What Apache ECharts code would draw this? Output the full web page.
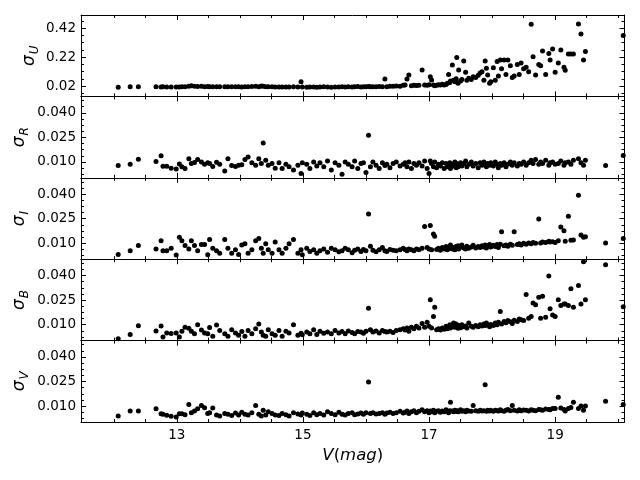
<!DOCTYPE html>
<html><head><meta charset="utf-8">
<script src="https://cdn.jsdelivr.net/npm/echarts@6/dist/echarts.min.js"></script>
<style>html,body{margin:0;padding:0;background:#fff}#c{width:640px;height:480px}</style>
</head><body><div id="c"></div>
<script>
// V magnitudes (shared by all panels)
const vMag = [12.07,12.26,12.39,12.67,12.75,12.78,12.84,12.91,12.99,13.04,
13.08,13.13,13.19,13.23,13.28,13.33,13.39,13.44,13.49,13.52,13.57,13.63,13.68,13.76,13.81,13.87,13.93,13.98,
14.03,14.08,14.13,14.19,14.25,14.30,14.34,14.37,14.41,14.45,14.51,14.56,14.62,14.67,14.73,14.78,14.85,14.92,14.97,14.99,
15.06,15.11,15.17,15.22,15.27,15.33,15.39,15.45,15.51,15.57,15.62,15.67,15.72,15.78,15.82,15.87,15.92,15.96,16.00,
16.04,16.07,16.11,16.16,16.21,16.26,16.30,16.33,16.38,16.43,16.48,16.54,16.59,16.62,16.65,16.68,16.72,16.76,16.80,16.84,16.89,16.93,16.97,17.00,
17.02,17.04,17.07,17.09,17.12,17.15,17.18,17.21,17.24,17.27,17.29,17.31,17.33,17.34,17.37,17.39,17.41,17.43,17.44,17.46,17.47,17.50,17.52,17.55,17.58,17.60,17.63,17.67,17.70,17.74,17.78,17.81,17.84,17.87,17.89,17.91,17.93,17.96,17.98,
18.02,18.05,18.08,18.10,18.13,18.15,18.19,18.22,18.25,18.29,18.32,18.35,18.40,18.43,18.46,18.50,18.54,18.58,18.62,18.65,18.69,18.74,18.77,18.80,18.85,18.90,18.92,18.96,19.00,
19.05,19.09,19.14,19.16,19.21,19.25,19.29,19.37,19.41,19.45,19.48,19.80,20.08];

const sigU = [0.012,0.016,0.016,0.016,0.014,0.015,0.013,0.013,0.014,0.014,
0.015,0.016,0.019,0.022,0.019,0.017,0.018,0.016,0.017,0.015,0.016,0.015,0.015,0.016,0.015,0.016,0.015,0.016,
0.014,0.016,0.016,0.017,0.018,0.016,0.020,0.019,0.016,0.016,0.015,0.014,0.013,0.013,0.014,0.013,0.015,0.014,0.050,0.013,
0.012,0.014,0.013,0.012,0.013,0.015,0.014,0.012,0.013,0.014,0.015,0.013,0.016,0.014,0.015,0.017,0.014,0.016,0.015,
0.017,0.016,0.015,0.016,0.017,0.015,0.069,0.016,0.018,0.018,0.020,0.019,0.025,0.027,0.069,0.096,0.022,0.025,0.024,0.026,0.131,0.028,0.025,0.030,
0.085,0.062,0.027,0.022,0.025,0.030,0.028,0.033,0.027,0.031,0.040,0.100,0.045,0.055,0.166,0.060,0.050,0.070,0.217,0.040,0.131,0.055,0.065,0.194,0.115,0.060,0.075,0.065,0.085,0.080,0.095,0.110,0.120,0.060,0.194,0.143,0.096,0.040,0.050,
0.147,0.060,0.190,0.090,0.200,0.140,0.200,0.100,0.200,0.160,0.080,0.090,0.170,0.100,0.180,0.140,0.150,0.120,0.448,0.223,0.096,0.170,0.160,0.263,0.100,0.245,0.200,0.277,0.115,
0.180,0.270,0.150,0.130,0.242,0.242,0.242,0.450,0.380,0.200,0.260,null,0.370];

const sigR = [0.0078,0.0085,0.0117,0.0102,0.0137,0.0074,0.0074,0.0062,0.0056,0.0088,
0.0070,0.0060,0.0120,0.0090,0.0096,0.0115,0.0100,0.0085,0.0095,0.0090,0.0072,0.0098,0.0085,0.0045,0.0120,0.0078,0.0072,0.0080,
0.0082,0.0115,0.0130,0.0095,0.0080,0.0120,0.0090,0.0216,0.0110,0.0080,0.0090,0.0062,0.0095,0.0060,0.0085,0.0070,0.0050,0.0080,0.0030,0.0095,
0.0085,0.0060,0.0100,0.0075,0.0095,0.0070,0.0105,0.0050,0.0095,0.0080,0.0025,0.0100,0.0085,0.0070,0.0105,0.0060,0.0090,0.0095,0.0035,
0.0263,0.0070,0.0100,0.0080,0.0060,0.0095,0.0078,0.0085,0.0065,0.0090,0.0100,0.0075,0.0085,0.0095,0.0070,0.0100,0.0060,0.0090,0.0080,0.0095,0.0075,0.0105,0.0060,0.0030,
0.0105,0.0090,0.0070,0.0100,0.0065,0.0085,0.0075,0.0095,0.0060,0.0090,0.0070,0.0080,0.0095,0.0060,0.0085,0.0075,0.0100,0.0065,0.0090,0.0070,0.0080,0.0095,0.0075,0.0090,0.0105,0.0070,0.0085,0.0100,0.0075,0.0090,0.0065,0.0095,0.0080,0.0100,0.0085,0.0070,0.0090,0.0080,0.0095,
0.0075,0.0100,0.0085,0.0065,0.0090,0.0080,0.0095,0.0070,0.0085,0.0100,0.0080,0.0095,0.0075,0.0090,0.0085,0.0100,0.0080,0.0095,0.0110,0.0090,0.0115,0.0085,0.0100,0.0090,0.0110,0.0080,0.0095,0.0100,0.0085,
0.0090,0.0105,0.0080,0.0095,0.0100,0.0085,0.0110,0.0120,0.0095,0.0080,0.0110,0.0078,0.0139];

const sigI = [0.0031,0.0055,0.0086,0.0065,0.0116,0.0055,0.0055,0.0070,0.0029,0.0137,
0.0116,0.0086,0.0065,0.0116,0.0086,0.0055,0.0092,0.0092,0.0030,0.0124,0.0070,0.0055,0.0040,0.0124,0.0070,0.0040,0.0060,0.0031,
0.0090,0.0098,0.0040,0.0060,0.0116,0.0130,0.0070,0.0040,0.0098,0.0060,0.0040,0.0108,0.0060,0.0040,0.0070,0.0098,0.0124,0.0040,0.0060,0.0030,
0.0070,0.0050,0.0060,0.0040,0.0055,0.0066,0.0045,0.0070,0.0060,0.0048,0.0055,0.0070,0.0060,0.0042,0.0058,0.0065,0.0050,0.0062,0.0055,
0.0279,0.0082,0.0058,0.0048,0.0060,0.0075,0.0055,0.0050,0.0062,0.0058,0.0055,0.0060,0.0070,0.0062,0.0055,0.0065,0.0060,0.0055,0.0065,0.0060,0.0070,0.0202,0.0075,0.0065,
0.0208,0.0060,0.0157,0.0143,0.0062,0.0070,0.0058,0.0075,0.0065,0.0080,0.0060,0.0072,0.0068,0.0090,0.0065,0.0075,0.0060,0.0080,0.0070,0.0085,0.0065,0.0078,0.0090,0.0072,0.0065,0.0082,0.0070,0.0078,0.0088,0.0072,0.0080,0.0075,0.0085,0.0078,0.0090,0.0072,0.0085,0.0092,0.0078,
0.0088,0.0080,0.0092,0.0075,0.0095,0.0171,0.0085,0.0090,0.0082,0.0095,0.0088,0.0171,0.0092,0.0098,0.0090,0.0100,0.0095,0.0102,0.0098,0.0105,0.0100,0.0248,0.0102,0.0108,0.0105,0.0112,0.0108,0.0110,0.0105,
0.0115,0.0200,0.0177,0.0112,0.0266,0.0118,0.0120,0.0394,0.0151,0.0137,0.0140,0.0102,0.0130];

const sigB = [0.0015,0.0040,0.0094,0.0061,0.0092,0.0025,0.0050,0.0046,0.0050,0.0025,
0.0060,0.0085,0.0078,0.0060,0.0045,0.0100,0.0068,0.0050,0.0045,0.0083,0.0030,0.0098,0.0065,0.0045,0.0030,0.0070,0.0050,0.0035,
0.0058,0.0030,0.0065,0.0045,0.0075,0.0105,0.0055,0.0035,0.0030,0.0070,0.0045,0.0035,0.0065,0.0030,0.0060,0.0050,0.0100,0.0035,0.0048,0.0038,
0.0055,0.0045,0.0070,0.0040,0.0060,0.0048,0.0055,0.0045,0.0065,0.0050,0.0058,0.0045,0.0062,0.0052,0.0045,0.0058,0.0055,0.0048,0.0060,
0.0200,0.0070,0.0055,0.0062,0.0050,0.0065,0.0058,0.0055,0.0060,0.0052,0.0065,0.0070,0.0075,0.0068,0.0080,0.0060,0.0085,0.0075,0.0090,0.0080,0.0108,0.0085,0.0115,0.0090,
0.0253,0.0080,0.0150,0.0206,0.0070,0.0075,0.0068,0.0080,0.0072,0.0090,0.0075,0.0085,0.0100,0.0080,0.0092,0.0110,0.0085,0.0105,0.0090,0.0078,0.0095,0.0082,0.0100,0.0088,0.0092,0.0080,0.0110,0.0090,0.0085,0.0095,0.0088,0.0100,0.0092,0.0105,0.0095,0.0110,0.0098,0.0088,0.0102,
0.0095,0.0110,0.0100,0.0115,0.0180,0.0105,0.0120,0.0112,0.0125,0.0118,0.0108,0.0128,0.0120,0.0135,0.0130,0.0125,0.0284,0.0140,0.0150,0.0232,0.0222,0.0268,0.0140,0.0274,0.0145,0.0398,0.0197,0.0160,0.0150,
0.0253,0.0218,0.0226,0.0226,0.0218,0.0320,0.0206,0.0340,0.0226,0.0485,0.0253,0.0466,0.0210];

const sigV = [0.0040,0.0070,0.0070,0.0084,0.0054,0.0050,0.0044,0.0038,0.0033,0.0054,
0.0054,0.0048,0.0110,0.0060,0.0070,0.0084,0.0104,0.0090,0.0055,0.0060,0.0088,0.0045,0.0040,0.0055,0.0050,0.0042,0.0058,0.0045,
0.0063,0.0050,0.0045,0.0060,0.0104,0.0050,0.0040,0.0075,0.0045,0.0065,0.0055,0.0045,0.0043,0.0055,0.0048,0.0040,0.0060,0.0052,0.0045,0.0058,
0.0050,0.0042,0.0060,0.0048,0.0055,0.0045,0.0065,0.0055,0.0048,0.0062,0.0050,0.0045,0.0055,0.0060,0.0048,0.0052,0.0058,0.0050,0.0060,
0.0247,0.0055,0.0060,0.0052,0.0055,0.0060,0.0050,0.0058,0.0062,0.0055,0.0060,0.0068,0.0058,0.0062,0.0070,0.0055,0.0065,0.0072,0.0060,0.0068,0.0078,0.0065,0.0072,0.0060,
0.0070,0.0065,0.0075,0.0060,0.0068,0.0072,0.0062,0.0070,0.0065,0.0078,0.0068,0.0060,0.0072,0.0124,0.0070,0.0065,0.0075,0.0068,0.0072,0.0065,0.0070,0.0078,0.0068,0.0072,0.0065,0.0075,0.0070,0.0068,0.0104,0.0072,0.0068,0.0075,0.0070,0.0072,0.0231,0.0068,0.0075,0.0070,0.0074,
0.0068,0.0075,0.0072,0.0070,0.0078,0.0072,0.0068,0.0075,0.0080,0.0072,0.0104,0.0075,0.0070,0.0078,0.0072,0.0076,0.0074,0.0070,0.0078,0.0075,0.0072,0.0080,0.0078,0.0075,0.0082,0.0080,0.0078,0.0085,0.0085,
0.0154,0.0088,0.0080,0.0070,0.0085,0.0092,0.0124,0.0085,0.0100,0.0075,0.0100,0.0130,0.0110];

// tick values
const xTicks = [13, 15, 17, 19];
const xMinorTicks = [12, 12.5, 13.5, 14, 14.5, 15.5, 16, 16.5, 17.5, 18, 18.5, 19.5, 20];
const uTicks = [0.02, 0.22, 0.42];
const uMinorTicks = [-0.03, 0.07, 0.12, 0.17, 0.27, 0.32, 0.37, 0.47];
const bandTicks = [0.010, 0.025, 0.040];
const bandMinorTicks = [0.0025, 0.00625, 0.01375, 0.0175, 0.02125, 0.02875, 0.0325, 0.03625, 0.04375, 0.0475];

const FONT = 'DejaVu Sans';
const panels = [
  {sub: 'U', vals: sigU, ticks: uTicks, minor: uMinorTicks, min: -0.0515, max: 0.512, dec: 2, gap: 40},
  {sub: 'R', vals: sigR, ticks: bandTicks, minor: bandMinorTicks, min: 0.0003, max: 0.0500, dec: 3, gap: 50},
  {sub: 'I', vals: sigI, ticks: bandTicks, minor: bandMinorTicks, min: 0.0003, max: 0.0500, dec: 3, gap: 50},
  {sub: 'B', vals: sigB, ticks: bandTicks, minor: bandMinorTicks, min: 0.0003, max: 0.0500, dec: 3, gap: 50},
  {sub: 'V', vals: sigV, ticks: bandTicks, minor: bandMinorTicks, min: 0.0003, max: 0.0500, dec: 3, gap: 50}
];

const tops = [15, 96.4, 177.8, 259.2, 340.6];
const H = 81.4, LEFT = 81, W = 543.5;
const XMIN = 11.48, XMAX = 20.1;
const line = {color: '#000', width: 1};
const grid = [], xAxis = [], yAxis = [], series = [];

function addX(gi, pos, vals, len, showLine, showLabel, name) {
  const ax = {
    type: 'value', gridIndex: gi, position: pos, min: XMIN, max: XMAX,
    axisLine: {show: showLine, onZero: false, lineStyle: line},
    axisTick: {show: true, inside: true, length: len, customValues: vals, lineStyle: line},
    axisLabel: {show: showLabel, customValues: vals, color: '#000', fontFamily: FONT, fontSize: 13.5, margin: 6},
    splitLine: {show: false}
  };
  if (name) {
    ax.name = '{i|V}{n|(}{i|mag}{n|)}';
    ax.nameLocation = 'middle';
    ax.nameGap = 25;
    ax.nameMoveOverlap = false;
    ax.nameTextStyle = {rich: {
      i: {fontFamily: FONT, fontStyle: 'italic', fontSize: 16.5, color: '#000'},
      n: {fontFamily: FONT, fontSize: 16.5, color: '#000'}
    }};
  }
  xAxis.push(ax);
  return xAxis.length - 1;
}
function addY(gi, p, pos, vals, len, showLine, showLabel, withName) {
  const ax = {
    type: 'value', gridIndex: gi, position: pos, min: p.min, max: p.max,
    axisLine: {show: showLine, onZero: false, lineStyle: line},
    axisTick: {show: true, inside: true, length: len, customValues: vals, lineStyle: line},
    axisLabel: {show: showLabel, customValues: vals, color: '#000', fontFamily: FONT, fontSize: 13.5, margin: 5,
      formatter: v => Number(v).toFixed(p.dec)},
    splitLine: {show: false}
  };
  if (withName) {
    ax.name = '{s|σ}{b|' + p.sub + '}';
    ax.nameLocation = 'middle';
    ax.nameRotate = 90;
    ax.nameGap = p.gap;
    ax.nameMoveOverlap = false;
    ax.nameTextStyle = {rich: {
      s: {fontFamily: FONT, fontStyle: 'italic', fontSize: 17, color: '#000', lineHeight: 22},
      b: {fontFamily: FONT, fontStyle: 'italic', fontSize: 12, color: '#000', lineHeight: 22, verticalAlign: 'bottom', padding: [6, 0, 0, 1]}
    }};
  }
  yAxis.push(ax);
  return yAxis.length - 1;
}

panels.forEach((p, i) => {
  grid.push({left: LEFT, top: tops[i], width: W, height: H});
});
panels.forEach((p, i) => {
  grid.push({left: LEFT, top: tops[i], width: W, height: H});
});

panels.forEach((p, i) => {
  const last = i === panels.length - 1;
  const xi = addX(i, 'bottom', xTicks, 5, true, last, last);
  addX(i, 'top', xTicks, 5, true, false, false);
  const yi = addY(i, p, 'left', p.ticks, 5, true, true, true);
  addY(i, p, 'right', p.ticks, 5, true, false, false);
  // minor ticks on overlay grid
  const g2 = i + panels.length;
  addX(g2, 'bottom', xMinorTicks, 3, false, false, false);
  addX(g2, 'top', xMinorTicks, 3, false, false, false);
  addY(g2, p, 'left', p.minor, 3, false, false, false);
  addY(g2, p, 'right', p.minor, 3, false, false, false);

  const data = [];
  vMag.forEach((v, k) => { if (p.vals[k] != null) data.push([v, p.vals[k]]); });
  series.push({
    type: 'scatter', xAxisIndex: xi, yAxisIndex: yi, data: data,
    symbol: 'circle', symbolSize: 5, itemStyle: {color: '#000', opacity: 1}, silent: true
  });
});

const chart = echarts.init(document.getElementById('c'), null, {renderer: 'canvas'});
chart.setOption({
  backgroundColor: '#fff',
  animation: false,
  grid: grid, xAxis: xAxis, yAxis: yAxis, series: series
});
</script>
</body></html>
